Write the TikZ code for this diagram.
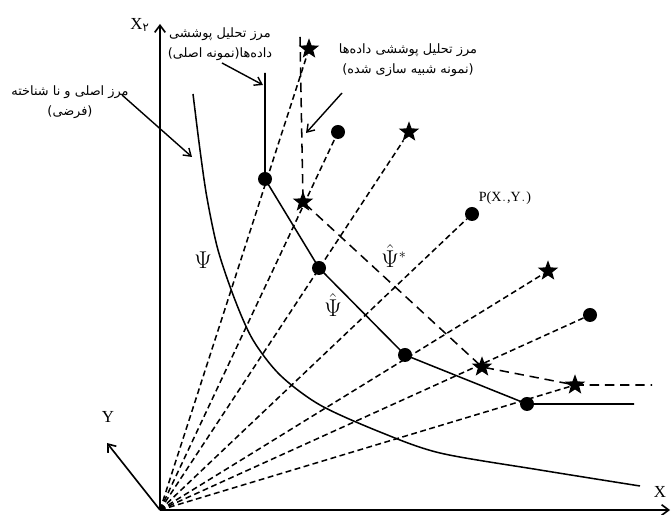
\documentclass[tikz,border=0pt]{standalone}
\usepackage{fontspec}
\setmainfont{Liberation Serif}
\newfontfamily\fa[Script=Arabic]{DejaVu Sans}
\TeXXeTstate=1
\usepackage{tikz}
\usetikzlibrary{arrows.meta,shapes.geometric}
\newcommand{\rl}[1]{\beginR #1\endR}

\begin{document}
\begin{tikzpicture}[
  x=0.03cm, y=0.03cm,
  axis/.style={line width=1.4pt, -{Straight Barb[length=6pt,width=9pt,line width=1.4pt]}},
  note/.style={line width=1.2pt, -{Straight Barb[length=6pt,width=8pt,line width=1.2pt]}},
  ray/.style={line width=1.3pt, dash pattern=on 5pt off 3pt},
  front/.style={line width=1.3pt},
  frontsim/.style={line width=1.3pt, dash pattern=on 8pt off 5pt},
  dmu/.style={circle, fill=black, inner sep=0pt, minimum size=0.42cm},
  simdmu/.style={star, star points=5, star point ratio=2.4, fill=black, inner sep=0pt, minimum size=0.64cm},
  fanote/.style={font=\fa\fontsize{11}{13}\selectfont, align=center, inner sep=1pt},
  lbl/.style={font=\Large, inner sep=1pt},
  greek/.style={font=\huge, inner sep=1pt},
]
\useasboundingbox[fill=white] (0,0) rectangle (671,515);

% ===================== Axes =====================
\coordinate (O) at (160,5);
\coordinate (x2tip) at (160,491);
\coordinate (xtip) at (670,5);
\coordinate (ytip) at (107,72);
\draw[axis] (O) -- (x2tip);
\draw[axis] (O) -- (xtip);
\draw[axis] (O) -- (ytip);
\node[lbl] (x2lbl) at (140,490) {X\textsubscript{\fa ۲}};
\node[lbl] (xlbl) at (660,23) {X};
\node[lbl] (ylbl) at (108,98) {Y};

% ===================== True frontier (Psi) =====================
\draw[front] plot[smooth] coordinates {(193,421) (200,365) (207,317) (218,265) (235,215) (253,175) (280,140) (320,110) (380,83) (440,62) (540,45) (640,29)};
\node[greek] (psi) at (203,255) {$\Psi$};

% ===================== Units =====================
% original sample (dots)
\node[dmu] (A) at (265,336) {};
\node[dmu] (C) at (319,247) {};
\node[dmu] (D) at (405,160) {};
\node[dmu] (G) at (527,111) {};
\node[dmu] (d2) at (338,383) {};
\node[dmu] (P) at (472,301) {};
\node[dmu] (d6) at (590,200) {};
% simulated sample (stars)
\node[simdmu] (B) at (303,313) {};
\node[simdmu] (E) at (482,148) {};
\node[simdmu] (F) at (575,130) {};
\node[simdmu] (s1) at (309,466) {};
\node[simdmu] (s3) at (409,383) {};
\node[simdmu] (s5) at (548,244) {};

% rays from the origin
\draw[ray] (O) -- (s1);
\draw[ray] (O) -- (d2);
\draw[ray] (O) -- (s3);
\draw[ray] (O) -- (P);
\draw[ray] (O) -- (s5);
\draw[ray] (O) -- (d6);
\draw[ray] (O) -- (F);

% ===================== DEA frontiers =====================
\coordinate (ftop) at (265,442);
\coordinate (fend) at (634,111);
\draw[front] (ftop) -- (A.center) -- (C.center) -- (D.center) -- (G.center) -- (fend);
\node[greek] (psihat) at (333,210) {$\hat{\Psi}$};

\coordinate (stop) at (300,478);
\coordinate (send) at (652,130);
\draw[frontsim] (stop) -- (B.center) -- (E.center) -- (F.center) -- (send);
\node[greek] (psistar) at (394,259) {$\hat{\Psi}^{\scriptscriptstyle *}$};

\node[font=\large, inner sep=1pt] (plbl) at (505,317) {P(X\textsubscript{\fa ۰},Y\textsubscript{\fa ۰})};

% ===================== Notes =====================
\node[fanote] (note1) at (220,471) {\rl{مرز تحلیل پوششی}\\[4pt]\rl{داده‌ها(نمونه اصلی)}};
\coordinate (n1tip) at (263,430);
\draw[note] (222,452) -- (n1tip);

\node[fanote] (note2) at (70,413) {\rl{مرز اصلی و نا شناخته}\\[4pt]\rl{(فرضی)}};
\coordinate (n2tip) at (192,358);
\draw[note] (122,420) -- (n2tip);

\node[fanote] (note3) at (408,455) {\rl{مرز تحلیل پوششی داده‌ها}\\[4pt]\rl{(نمونه شبیه سازی شده)}};
\coordinate (n3tip) at (306,382);
\draw[note] (342,422) -- (n3tip);

\end{tikzpicture}
\end{document}
